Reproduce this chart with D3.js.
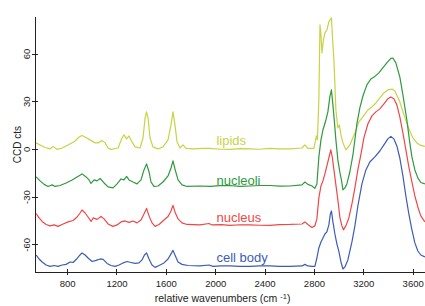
<!DOCTYPE html>
<html>
<head>
<meta charset="utf-8">
<script src="https://cdn.jsdelivr.net/npm/d3@7"></script>
<style>
  body { margin: 0; background: #fff; }
  svg { display: block; font-family: "Liberation Sans", Arial, sans-serif; }
  .axis path, .axis line { stroke: #222; shape-rendering: crispEdges; }
  .axis text { fill: #222; font-size: 9.5px; }
  .spec { fill: none; stroke-width: 1.2; stroke-linejoin: round; }
</style>
</head>
<body>
<div id="chart"></div>
<script>
// spectra: [wavenumber, CCD cts]
var lipids = [
  [549, 3.8], [581, 2.5], [622, 0.9], [662, 0], [687, 1.6], [719, -0.3], [760, 0.6],
  [808, 2.5], [865, 5.0], [897, 7.5], [921, 8.5], [946, 7.5], [986, 5.7], [1027, 3.8],
  [1051, 3.8], [1083, 5.3], [1108, 3.8], [1132, 0.6], [1156, -0.3], [1213, 0.6],
  [1245, 6.9], [1261, 8.8], [1282, 6.3], [1302, 8.2], [1326, 4.4], [1351, 1.3],
  [1391, 0.6], [1415, 6.9], [1432, 19.5], [1444, 23.3], [1456, 19.5], [1472, 6.9],
  [1496, 1.3], [1537, 0], [1577, 1.3], [1618, 5.7], [1642, 15.1], [1658, 23.3],
  [1674, 15.1], [1691, 4.4], [1715, 0.6], [1739, 2.5], [1764, 0.3], [1836, 0],
  [1900, 0.4], [1958, 0.3], [2040, -0.2], [2120, -0.3], [2200, 0.2], [2282, 0],
  [2360, -0.2], [2444, 0.3], [2520, 0], [2606, 0], [2703, 0.6], [2727, 2.5],
  [2751, 0.3], [2800, 0.3], [2820, 8.2], [2828, 5.7], [2840, 30.8], [2849, 78],
  [2857, 71.7], [2865, 60.4], [2877, 68.6], [2889, 73], [2905, 74.8], [2921, 79.9],
  [2942, 82.4], [2954, 65.4], [2962, 56], [2978, 24.5], [2994, 13.2], [3006, 15.1],
  [3019, 8.8], [3035, 3.8], [3059, -0.6], [3091, 2.5], [3132, 10], [3164, 17],
  [3197, 20.1], [3237, 24.5], [3270, 26.4], [3302, 28.9], [3334, 32.1], [3367, 35.2],
  [3399, 37.1], [3432, 37.7], [3456, 36.5], [3496, 29.6], [3529, 21.4], [3553, 16.4],
  [3577, 11.3], [3602, 6.9], [3634, 3.8], [3666, 2.2], [3699, 1.6]
];

var nucleoli = [
  [549, -17.6], [581, -20.1], [614, -22.3], [646, -23.6], [679, -22.6], [703, -23.6],
  [743, -23.0], [792, -21.4], [841, -19.5], [881, -17.6], [921, -15.7], [954, -17.6],
  [978, -19.5], [994, -21.7], [1019, -19.5], [1043, -20.1], [1067, -18.6], [1100, -21.4],
  [1132, -23.9], [1172, -24.5], [1205, -22.0], [1237, -18.9], [1261, -19.5], [1282, -17.3],
  [1302, -19.5], [1334, -20.8], [1367, -22.0], [1399, -19.5], [1423, -13.2], [1444, -9.4],
  [1464, -14.5], [1480, -20.8], [1504, -23.6], [1537, -23.3], [1577, -20.8], [1618, -17.0],
  [1642, -12.0], [1658, -7.5], [1674, -12.6], [1699, -19.5], [1731, -22.6], [1772, -23.6],
  [1877, -23.3], [1958, -23.6], [2040, -23.1], [2120, -23.0], [2200, -23.5], [2282, -23.3],
  [2360, -23.0], [2444, -23.0], [2520, -23.4], [2606, -23.3], [2703, -22.6], [2727, -20.8],
  [2751, -22.3], [2784, -23.3], [2808, -24.8], [2824, -22.0], [2840, -5.0], [2857, 5.7],
  [2873, 11.9], [2897, 18.2], [2913, 23.3], [2929, 32.7], [2942, 37.1], [2954, 27.7],
  [2966, 17.0], [2978, 5.7], [2994, -6.9], [3011, -15.1], [3023, -19.5], [3035, -25.8],
  [3051, -24.5], [3067, -22.0], [3091, -14.5], [3116, -3.8], [3148, 15.7], [3172, 25.8],
  [3197, 33.3], [3229, 40.3], [3261, 44], [3294, 45.6], [3326, 47.8], [3358, 50.9],
  [3391, 54.1], [3423, 56.9], [3440, 57.2], [3464, 54.1], [3496, 45.3], [3521, 34],
  [3553, 18.2], [3577, 3.8], [3594, -5.0], [3618, -13.2], [3642, -18.2], [3666, -21.1],
  [3699, -22.0]
];

var nucleus = [
  [549, -40.6], [573, -43.4], [598, -45.6], [630, -47.5], [662, -48.4], [695, -47.8],
  [727, -48.7], [768, -47.2], [808, -45.9], [849, -45.0], [881, -42.8], [905, -40.3],
  [921, -38.4], [946, -40.3], [970, -42.8], [994, -45.6], [1011, -43.4], [1043, -44.3],
  [1075, -42.5], [1100, -44.0], [1132, -47.2], [1172, -48.7], [1205, -47.8], [1237, -45.9],
  [1270, -45.3], [1302, -46.2], [1334, -45.3], [1367, -46.5], [1399, -44.7], [1423, -40.9],
  [1444, -37.4], [1464, -42.1], [1488, -46.5], [1513, -48.7], [1545, -47.5], [1585, -44.7],
  [1618, -42.5], [1642, -39.0], [1658, -35.5], [1674, -39.6], [1699, -44.0], [1731, -46.5],
  [1772, -47.5], [1877, -47.8], [1950, -46.9], [1974, -47.8], [2050, -47.6], [2120, -48.1],
  [2200, -47.7], [2282, -47.8], [2360, -48.0], [2444, -48.1], [2520, -47.6], [2606, -47.5],
  [2703, -47.2], [2727, -45.9], [2751, -47.5], [2784, -49.4], [2808, -48.4], [2824, -44.0],
  [2840, -30.8], [2857, -23.3], [2873, -20.1], [2889, -15.7], [2905, -10.7], [2921, -5.7],
  [2937, -0.6], [2950, -5.7], [2962, -13.2], [2978, -22.6], [2994, -32.1], [3011, -43.4],
  [3027, -48.4], [3039, -50.9], [3059, -48.4], [3083, -43.4], [3108, -34.6], [3132, -24.5],
  [3156, -13.2], [3180, -3.8], [3205, 6.9], [3237, 15.7], [3270, 20.8], [3302, 23.3],
  [3334, 25.2], [3367, 28.3], [3399, 31.5], [3423, 32.7], [3448, 31.5], [3472, 27.7],
  [3496, 20.1], [3521, 10.1], [3545, -0.6], [3569, -11.3], [3594, -20.8], [3618, -29.6],
  [3642, -36.5], [3666, -42.1], [3699, -45.9]
];

var cellBody = [
  [549, -66.7], [573, -69.2], [598, -71.1], [630, -73.0], [662, -73.9], [695, -73.3],
  [727, -73.9], [760, -73.0], [792, -72.6], [824, -71.1], [849, -71.4], [881, -68.9],
  [905, -66.7], [921, -65.4], [946, -66.7], [970, -68.6], [1003, -70.8], [1035, -70.1],
  [1067, -69.2], [1092, -69.5], [1124, -72.0], [1156, -73.3], [1189, -73.9], [1221, -73.0],
  [1253, -71.7], [1286, -70.8], [1318, -71.4], [1351, -72.0], [1383, -71.7], [1407, -69.8],
  [1427, -66.7], [1444, -65.4], [1464, -69.2], [1488, -73.0], [1513, -74.5], [1545, -73.3],
  [1585, -71.7], [1618, -69.2], [1642, -66.0], [1658, -63.8], [1674, -66.7], [1699, -71.1],
  [1731, -72.6], [1780, -73.3], [1877, -73.6], [1950, -73.0], [1982, -73.9], [2050, -73.5],
  [2120, -73.6], [2200, -73.8], [2282, -73.9], [2360, -73.5], [2444, -73.6], [2520, -73.8],
  [2606, -73.9], [2703, -73.6], [2727, -72.6], [2751, -73.6], [2784, -73.9], [2808, -73.9],
  [2824, -68.6], [2840, -62.3], [2857, -58.5], [2873, -56.0], [2889, -53.5], [2905, -52.2],
  [2921, -47.8], [2933, -40.9], [2942, -39.0], [2954, -45.9], [2970, -53.5], [2986, -59.7],
  [3003, -64.8], [3019, -71.1], [3035, -75.5], [3051, -74.2], [3075, -69.8], [3108, -58.5],
  [3132, -48.4], [3156, -35.9], [3189, -22.0], [3221, -13.2], [3253, -8.2], [3294, -5.0],
  [3334, -1.3], [3367, 2.5], [3399, 6.3], [3423, 7.9], [3448, 6.3], [3472, 1.9],
  [3496, -5.7], [3521, -17.0], [3545, -29.6], [3569, -40.9], [3594, -50.9], [3618, -59.1],
  [3642, -64.2], [3666, -66.7], [3699, -67.9]
];

var seriesNames = ["lipids", "nucleoli", "nucleus", "cell body"];
var seriesData = [lipids, nucleoli, nucleus, cellBody];
var seriesColors = ["#c6d444", "#2e9a3c", "#f04646", "#3b5cb6"];
var labelYs = [2.4, -22.6, -46.2, -70.8];   // label baselines in CCD cts

var xTicks = [800, 1200, 1600, 2000, 2400, 2800, 3200, 3600];
var yTicks = [-60, -30, 0, 30, 60];

var svgWidth = 425;
var svgHeight = 306;

var margin = { top: 16, right: 0, bottom: 34, left: 35 };
var width = svgWidth - margin.left - margin.right;
var height = svgHeight - margin.top - margin.bottom;

var svg = d3.select("#chart")
  .append("svg")
  .attr("width", svgWidth)
  .attr("height", svgHeight);

var chartGroup = svg.append("g")
  .attr("transform", `translate(${margin.left}, ${margin.top})`);

var xScale = d3.scaleLinear()
  .domain([540, 3700])
  .range([0, width]);

var yScale = d3.scaleLinear()
  .domain([-77.4, 83.6])
  .range([height, 0]);

svg.append("clipPath")
  .attr("id", "clip")
  .append("rect")
  .attr("width", width)
  .attr("height", height);

var line = d3.line()
  .x(d => xScale(d[0]))
  .y(d => yScale(d[1]));

var plotGroup = chartGroup.append("g").attr("clip-path", "url(#clip)");

seriesData.forEach(function(data, i) {
  plotGroup.append("path")
    .attr("class", "spec")
    .attr("d", line(data))
    .attr("stroke", seriesColors[i]);
});

// series labels
seriesNames.forEach(function(name, i) {
  chartGroup.append("text")
    .attr("x", xScale(2010))
    .attr("y", yScale(labelYs[i]))
    .attr("fill", seriesColors[i])
    .style("font-size", "13px")
    .text(name);
});

// x axis, ticks cross the line
var bottomAxis = d3.axisBottom(xScale)
  .tickValues(xTicks)
  .tickFormat(d => String(d))
  .tickSizeOuter(0)
  .tickSizeInner(3)
  .tickPadding(5);

var xAxis = chartGroup.append("g")
  .attr("class", "axis")
  .attr("transform", `translate(0, ${height})`)
  .call(bottomAxis);

xAxis.selectAll(".tick line").attr("y1", -3).attr("y2", 3);

// y axis, labels turned sideways
var leftAxis = d3.axisLeft(yScale)
  .tickValues(yTicks)
  .tickFormat(d => String(d))
  .tickSizeOuter(0)
  .tickSizeInner(3);

var yAxis = chartGroup.append("g")
  .attr("class", "axis")
  .call(leftAxis);

yAxis.selectAll(".tick line").attr("x1", -3).attr("x2", 3);
yAxis.selectAll(".tick text")
  .attr("x", null)
  .attr("dy", null)
  .attr("text-anchor", "middle")
  .attr("transform", "translate(-5,0) rotate(-90)");

chartGroup.append("text")
  .attr("transform", `translate(-14, ${yScale(2.7)}) rotate(-90)`)
  .attr("text-anchor", "middle")
  .attr("fill", "#222")
  .style("font-size", "10px")
  .text("CCD cts");

var xLabel = chartGroup.append("text")
  .attr("x", xScale(2060))
  .attr("y", height + 30)
  .attr("text-anchor", "middle")
  .attr("fill", "#222")
  .style("font-size", "10.5px");

xLabel.append("tspan").text("relative wavenumbers (cm ");
xLabel.append("tspan").attr("dy", -3).style("font-size", "7.5px").text("-1");
xLabel.append("tspan").attr("dy", 3).text(")");
</script>
</body>
</html>
